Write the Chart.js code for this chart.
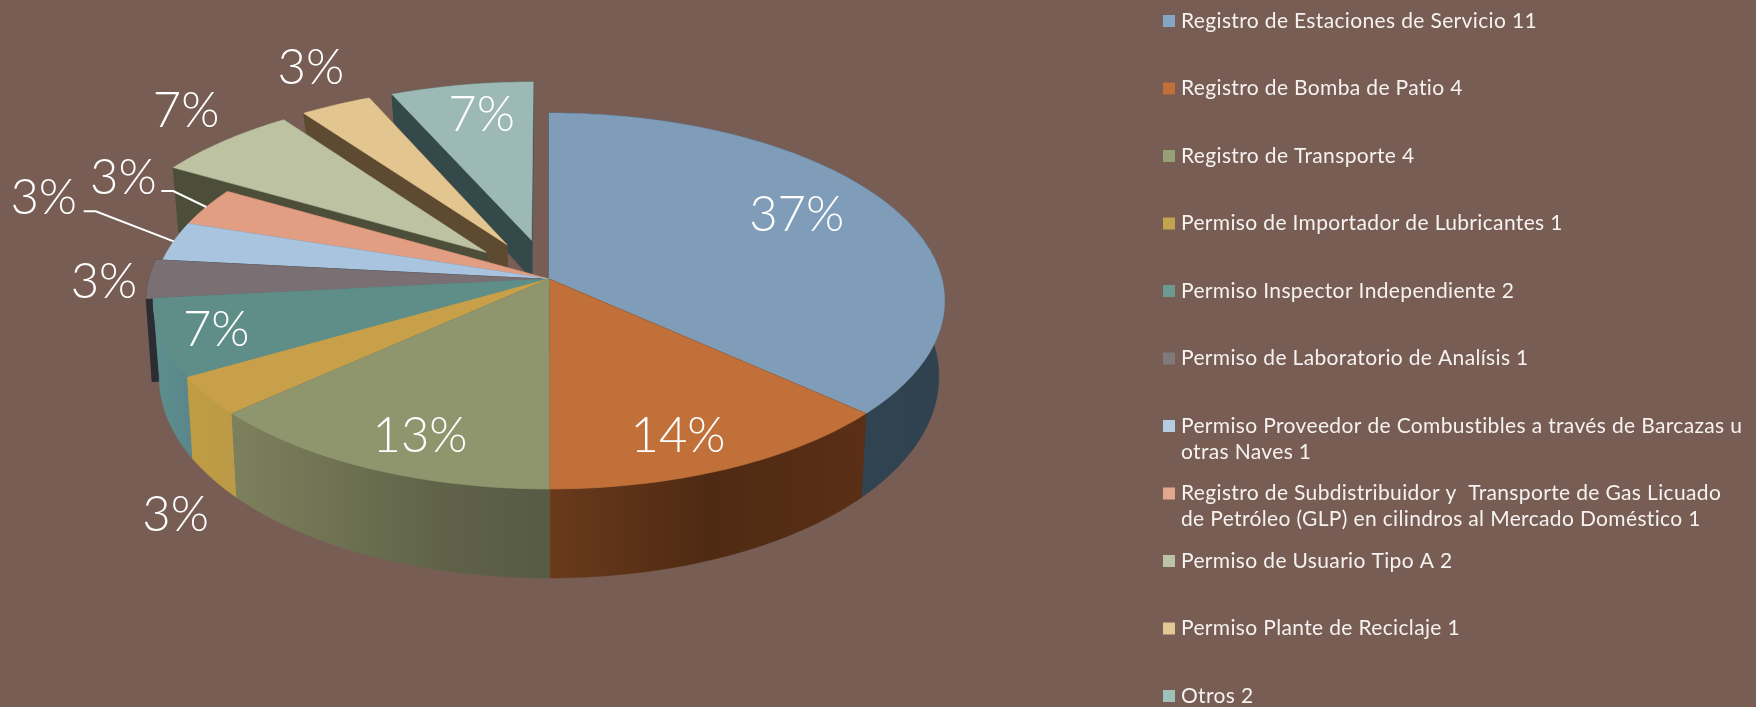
<!DOCTYPE html>
<html><head><meta charset="utf-8">
<script src="https://cdn.jsdelivr.net/npm/chart.js@4"></script>
<style>html,body{margin:0;padding:0;background:#775d53}canvas{display:block}</style>
</head><body><canvas id="c" width="1756" height="707"></canvas>
<script>
// ---- data ----
const categories = [
  ['Registro de Estaciones de Servicio 11'],
  ['Registro de Bomba de Patio 4'],
  ['Registro de Transporte 4'],
  ['Permiso de Importador de Lubricantes 1'],
  ['Permiso Inspector Independiente 2'],
  ['Permiso de Laboratorio de Analísis 1'],
  ['Permiso Proveedor de Combustibles a través de Barcazas u','otras Naves 1'],
  ['Registro de Subdistribuidor y  Transporte de Gas Licuado','de Petróleo (GLP) en cilindros al Mercado Doméstico 1'],
  ['Permiso de Usuario Tipo A 2'],
  ['Permiso Plante de Reciclaje 1'],
  ['Otros 2']
];
const counts = [11,4,4,1,2,1,1,1,2,1,2];
const percentLabels = ['37%','14%','13%','3%','7%','3%','3%','3%','7%','3%','7%'];

// ---- styles ----
const BG = '#775d53';
const topColors = ['#7f9db8','#c07038','#8f966d','#c8a04a','#5f8d88','#7a7074','#a9c4de','#e29e82','#bdc2a3','#e3c58f','#9cb9b5'];
const swatchColors = ['#86a6c3','#c1703a','#96a077','#c2a34f','#6c9a90','#817a7a','#b4cde0','#e2a78f','#bcc3a5','#e2c894','#a0c0b8'];
const wallStops = [
  ['#34495a','#30424f'],['#6a3a1c','#4f2a13','#5a2f15'],['#7c805c','#6e7253','#5f6248','#585b44'],
  ['#c09c42','#bb9a48'],['#5f8f8e','#58868a'],['#2b2d32'],['#6f8296'],['#8a5a48'],
  ['#4c4e39'],['#5d4a30'],['#33494a']
];
const sliceOffset = [0,0,0,0,0,4.5,0,0,55,55,55];
const depthFactor = [1,1,1,1,1,1.1,1,1,1,.42,.55];
const labelNudge = [[-95,8],[-50,-32],[50,-32],[-32,119],[55,-8],[-45,3],[-130,-43],[-83,-29],[-38,-30],[-25,-37],[20,30]];
const leaders = {6:[[-78,-30],[-90,-30]],7:[[-33,-16],[-45,-16]]};
// projective view of the pie plane
const VIEW = {a:393, b:185.4, p:0.117, depth0:74, depth1:15, lowerX:0.985};

function project(u,v,low,k){
  const w = 1 - VIEW.p*v;
  let X = VIEW.a*u/w, Y = VIEW.b*v/w;
  if(low){ X *= VIEW.lowerX; Y += (VIEW.depth0 + VIEW.depth1*v)*k; }
  return [X,Y];
}
function gradient(ctx,stops,x0,x1){
  if(stops.length===1||x1-x0<1) return stops[0];
  const g = ctx.createLinearGradient(x0,0,x1,0);
  stops.forEach((s,i)=>g.addColorStop(i/(stops.length-1),s));
  return g;
}
const pie3d = {
  id:'pie3d',
  beforeDraw(chart){
    const c=chart.ctx; c.save(); c.fillStyle=BG; c.fillRect(0,0,chart.width,chart.height); c.restore();
  },
  beforeDatasetDraw(chart){
    const ctx=chart.ctx, arcs=chart.getDatasetMeta(0).data;
    const items=arcs.map((el,i)=>{
      const mid=(el.startAngle+el.endAngle)/2, d=(el.options.offset||0)/el.outerRadius;
      return {el,i,mid,du:Math.cos(mid)*d,dv:Math.sin(mid)*d};
    }).sort((A,B)=>(Math.sin(A.mid)+A.dv)-(Math.sin(B.mid)+B.dv));
    ctx.save();
    for(const it of items){
      const {el,i,du,dv}=it, cx=el.x, cy=el.y, k=depthFactor[i];
      const n=Math.max(2,Math.ceil((el.endAngle-el.startAngle)/(Math.PI/180)));
      const rim=[]; for(let j=0;j<=n;j++){const t=el.startAngle+(el.endAngle-el.startAngle)*j/n; rim.push([Math.cos(t)+du,Math.sin(t)+dv]);}
      const hi=([u,v])=>project(u,v,false,k), lo=([u,v])=>project(u,v,true,k);
      const apex=[du,dv];
      const poly=(pts,fill)=>{ctx.beginPath();pts.forEach((p,j)=>j?ctx.lineTo(cx+p[0],cy+p[1]):ctx.moveTo(cx+p[0],cy+p[1]));ctx.closePath();ctx.fillStyle=fill;ctx.fill();ctx.strokeStyle=fill;ctx.lineWidth=.6;ctx.stroke();};
      const solid=wallStops[i][wallStops[i].length>2?1:0];
      // radial side walls
      poly([hi(apex),hi(rim[0]),lo(rim[0]),lo(apex)],solid);
      poly([hi(apex),hi(rim[n]),lo(rim[n]),lo(apex)],solid);
      // outer curved wall
      const wall=rim.map(hi).concat(rim.slice().reverse().map(lo));
      const xs=wall.map(p=>p[0]);
      poly(wall,gradient(ctx,wallStops[i],cx+Math.min(...xs),cx+Math.max(...xs)));
      // top face
      poly([hi(apex)].concat(rim.map(hi)),el.options.backgroundColor);
    }
    ctx.restore();
    return false;
  },
  afterDraw(chart){
    const ctx=chart.ctx, arcs=chart.getDatasetMeta(0).data;
    ctx.save();
    // percent labels and leader lines
    arcs.forEach((el,i)=>{
      const mid=(el.startAngle+el.endAngle)/2, d=(el.options.offset||0)/el.outerRadius;
      const [x,y]=project(Math.cos(mid)*(1+d),Math.sin(mid)*(1+d),false,1);
      const ax=el.x+x, ay=el.y+y;
      if(leaders[i]){
        ctx.beginPath();ctx.moveTo(ax,ay);
        leaders[i].forEach(p=>ctx.lineTo(ax+p[0],ay+p[1]));
        ctx.strokeStyle='#fff';ctx.lineWidth=2;ctx.stroke();
      }
      ctx.fillStyle='#fff';ctx.textAlign='center';ctx.textBaseline='middle';
      ctx.font='300 49px Lato';
      ctx.fillText(percentLabels[i],ax+labelNudge[i][0],ay+labelNudge[i][1]);
    });
    // legend
    ctx.textAlign='left';ctx.textBaseline='middle';ctx.font='21px Lato';ctx.letterSpacing='0.35px';
    categories.forEach((lines,i)=>{
      const y=21+67.5*i;
      ctx.fillStyle=swatchColors[i];ctx.fillRect(1163,y-6,12,12);
      ctx.fillStyle='#f6f2f0';
      lines.forEach((t,j)=>ctx.fillText(t,1181,y+j*26));
    });
    ctx.restore();
  }
};
new Chart(document.getElementById('c'),{
  type:'pie',
  data:{labels:categories,datasets:[{data:counts,backgroundColor:topColors,borderWidth:0,offset:sliceOffset}]},
  options:{
    responsive:false,animation:false,
    layout:{padding:{left:0,top:0,right:658,bottom:149}},
    plugins:{legend:{display:false},tooltip:{enabled:false}}
  },
  plugins:[pie3d]
});
</script></body></html>
